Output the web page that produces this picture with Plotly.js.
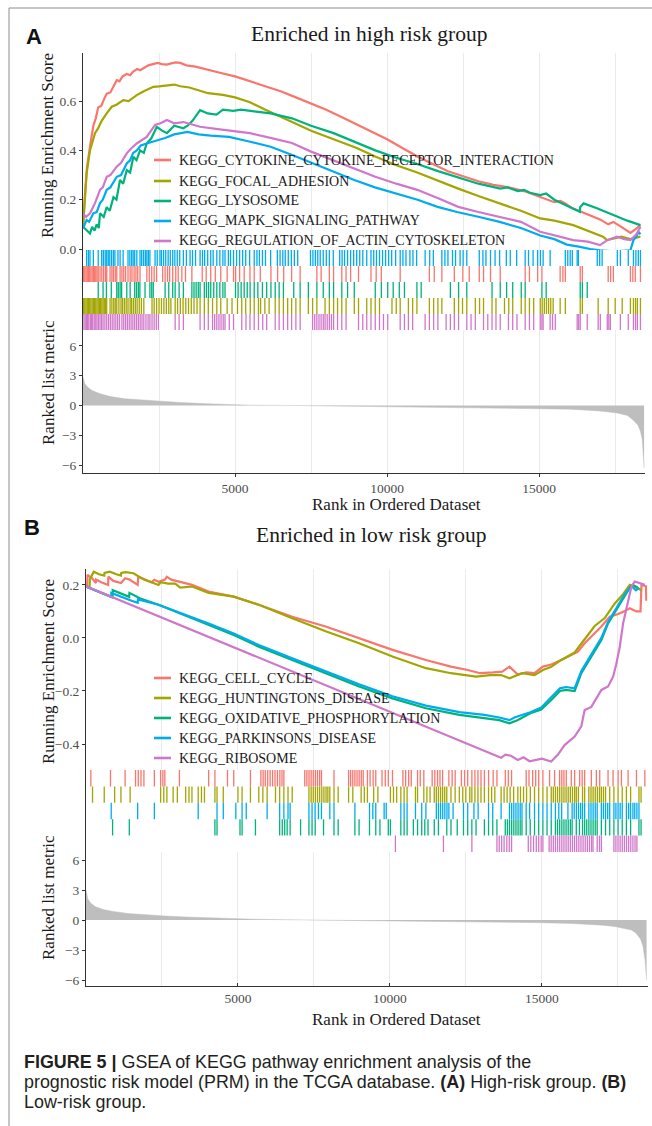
<!DOCTYPE html>
<html><head><meta charset="utf-8">
<script src="https://cdn.plot.ly/plotly-3.0.1.min.js"></script>
<style>html,body{margin:0;padding:0;background:#fff;}#chart{width:652px;height:1126px;}</style>
</head><body><div id="chart"></div>
<script>
// ---------------- DATA ----------------
const namesA = ['KEGG_CYTOKINE_CYTOKINE_RECEPTOR_INTERACTION','KEGG_FOCAL_ADHESION','KEGG_LYSOSOME','KEGG_MAPK_SIGNALING_PATHWAY','KEGG_REGULATION_OF_ACTIN_CYTOSKELETON'];
const namesB = ['KEGG_CELL_CYCLE','KEGG_HUNTINGTONS_DISEASE','KEGG_OXIDATIVE_PHOSPHORYLATION','KEGG_PARKINSONS_DISEASE','KEGG_RIBOSOME'];
const titleA = 'Enriched in high risk group';
const titleB = 'Enriched in low risk group';
const xTicks = [5000, 10000, 15000];
const xMinorTicks = [2500, 7500, 12500, 17500];
const yTicksRunA = [0, 0.2, 0.4, 0.6];
const yTicksRunB = [-0.4, -0.2, 0, 0.2];
const yTicksMetric = [-6, -3, 0, 3, 6];

// Panel A running enrichment scores
const cytokineX = [0,30,80,130,180,260,340,420,500,600,700,780,900,1000,1110,1200,1300,1440,1550,1650,1780,1880,2000,2150,2300,2450,2600,2750,2900,3050,3200,3400,3700,4000,4500,5000,5500,6000,6500,7000,7500,8000,8500,9000,9500,10000,10500,11000,11500,12000,12500,13000,13500,14000,14500,15000,15500,15700,15860,16100,16420,16700,17000,17270,17440,17700,18000,18160,18330];
const cytokineY = [0.09,0.16,0.25,0.33,0.38,0.44,0.50,0.53,0.575,0.58,0.61,0.63,0.635,0.66,0.685,0.68,0.70,0.71,0.705,0.72,0.73,0.725,0.735,0.745,0.75,0.755,0.75,0.748,0.753,0.757,0.755,0.745,0.74,0.73,0.715,0.70,0.68,0.66,0.64,0.615,0.59,0.565,0.535,0.505,0.475,0.445,0.41,0.375,0.345,0.315,0.295,0.275,0.26,0.25,0.235,0.213,0.19,0.195,0.185,0.165,0.15,0.135,0.12,0.10,0.11,0.09,0.065,0.08,0.097];
const focalX = [0,30,60,120,230,300,395,500,615,780,944,1100,1326,1500,1766,2000,2313,2500,2800,3000,3200,3500,4110,4600,5000,5490,6000,6870,7500,8240,9000,9610,10300,10990,11700,12340,13000,13720,14400,15035,15500,16120,16600,17100,17230,17500,17700,18000,18200,18330];
const focalY = [0.09,0.15,0.22,0.307,0.40,0.43,0.47,0.49,0.52,0.55,0.577,0.585,0.604,0.60,0.624,0.64,0.658,0.66,0.665,0.667,0.66,0.655,0.632,0.625,0.615,0.595,0.565,0.515,0.48,0.445,0.41,0.375,0.34,0.31,0.275,0.245,0.215,0.185,0.155,0.124,0.115,0.097,0.075,0.05,0.036,0.045,0.05,0.04,0.045,0.05];
const lysosomeX = [0,120,230,300,380,450,520,560,680,780,880,1000,1100,1217,1320,1438,1550,1656,1760,1875,2000,2095,2250,2425,2600,2760,3000,3300,3440,3600,3850,4100,4390,4600,4940,5200,5490,5800,6170,6870,7500,8240,9000,9610,10300,10990,11700,12340,13000,13720,13950,14300,14500,14700,15035,15230,15500,16000,16340,16350,16460,16900,17400,17900,18330];
const lysosomeY = [0.09,0.075,0.063,0.09,0.075,0.10,0.085,0.145,0.13,0.17,0.155,0.21,0.20,0.28,0.265,0.32,0.31,0.374,0.36,0.40,0.39,0.428,0.45,0.495,0.48,0.47,0.50,0.49,0.50,0.52,0.563,0.55,0.545,0.565,0.56,0.565,0.56,0.555,0.55,0.53,0.50,0.47,0.43,0.40,0.37,0.345,0.315,0.29,0.265,0.245,0.25,0.235,0.24,0.228,0.219,0.225,0.2,0.17,0.151,0.17,0.185,0.165,0.14,0.115,0.097];
const mapkX = [0,60,120,200,340,450,560,650,780,900,1109,1250,1438,1550,1650,1767,1900,2095,2250,2425,2700,3000,3440,3800,4200,4800,5500,6170,6900,7550,8200,8920,9600,10290,11000,11660,12300,13030,13700,14400,15035,15500,15910,16300,16680,17000,17500,18000,18100,18200,18260,18330];
const mapkY = [0.084,0.10,0.118,0.11,0.145,0.15,0.186,0.20,0.24,0.25,0.293,0.30,0.347,0.36,0.39,0.40,0.42,0.428,0.435,0.44,0.45,0.465,0.475,0.465,0.46,0.455,0.435,0.415,0.38,0.348,0.315,0.28,0.25,0.226,0.2,0.171,0.15,0.13,0.11,0.085,0.055,0.04,0.018,0.01,0.0,-0.005,-0.01,-0.005,0.036,0.05,0.07,0.06];
const actinX = [0,100,230,395,560,650,780,900,1109,1250,1438,1600,1767,1900,2095,2370,2550,2760,3000,3300,3850,4500,5490,6200,6870,7500,8240,9000,9610,10300,10990,11700,12340,13000,13720,14400,15035,15500,16120,16600,17000,17240,17560,17800,18000,18200,18330];
const actinY = [0.145,0.13,0.145,0.186,0.24,0.25,0.293,0.30,0.334,0.35,0.388,0.41,0.428,0.44,0.455,0.503,0.51,0.523,0.51,0.515,0.496,0.485,0.47,0.45,0.43,0.395,0.36,0.325,0.293,0.265,0.24,0.205,0.171,0.15,0.13,0.11,0.07,0.055,0.036,0.03,0.016,0.036,0.05,0.04,0.036,0.06,0.09];

// Panel A gene-set hit positions (rug)
const cytokineHits = [20,60,100,140,180,220,260,300,340,380,420,460,500,560,620,680,740,780,890,950,1000,1060,1110,1220,1280,1340,1400,1480,1550,1610,1680,1740,1800,1875,2100,2180,2260,2340,2420,2620,2700,2780,2850,2950,3050,3130,3250,3370,3580,3920,4050,4200,4350,4530,4740,4950,5020,5150,5300,5490,5630,5830,6180,6400,6600,6860,7140,7690,7830,8100,8240,8510,8650,8800,9060,9470,9640,9810,10430,11390,11550,11800,12210,12490,12700,13030,13170,13400,13720,14540,14680,14950,15090,15690,15780,15860,16350,16420,17270,17350,17440,18000,18080,18160,18330];
const focalHits = [20,60,100,140,180,220,260,300,340,380,420,460,500,540,580,620,660,700,740,780,890,950,1010,1060,1110,1180,1250,1300,1360,1420,1480,1550,1600,1660,1720,1780,1850,1920,2000,2270,2340,2420,2500,2580,2660,2740,2820,2890,3030,3110,3200,3290,3380,3470,3560,3650,3750,3850,3990,4120,4260,4400,4530,4740,4900,5080,5220,5350,5500,5630,5770,5840,5980,6120,6320,6450,6590,6730,6860,7000,7140,7410,7550,7690,7960,8100,8240,8370,8510,8650,8920,9060,9330,9470,9610,9750,10160,10300,10430,10700,10840,10980,11390,11530,11670,11800,12210,12350,12480,12620,12900,13040,13170,13450,13580,13860,14000,14130,14410,14540,14680,14820,15035,15100,15170,15240,15310,15380,15460,15690,15860,16350,16420,16940,17270,17500,17730,18000,18100,18170,18230,18330];
const lysosomeHits = [500,660,770,930,1110,1160,1220,1270,1440,1550,1700,1760,1820,1870,2040,2200,2260,2310,2700,2820,2950,3030,3160,3300,3580,3650,3720,3790,3850,3990,4060,4130,4200,4300,4400,4500,4600,4670,5015,5100,5200,5300,5400,5495,5630,5750,5900,6040,6180,6320,6450,6590,6930,7140,7410,7690,7900,8100,8240,8510,8700,8920,9610,9810,10020,10200,10400,10570,10980,11120,12080,12350,12620,13450,13720,13930,14130,14410,14540,15090,15230,16350,16420,16580];
const mapkHits = [120,180,230,340,500,615,670,730,780,830,880,940,1000,1050,1150,1220,1320,1480,1540,1600,1650,1700,1770,1875,1930,1990,2050,2100,2150,2200,2370,2440,2530,2580,2650,2720,2800,2870,2950,3020,3100,3180,3300,3400,3520,3600,3700,3850,3930,4000,4100,4200,4280,4400,4500,4600,4670,4780,4850,4950,5050,5150,5250,5350,5480,5630,5720,5800,5900,6000,6170,6390,6480,6570,6650,6750,6850,6950,7060,7480,7560,7640,7720,7800,7900,8000,8100,8230,8440,8520,8600,8700,8800,8900,9000,9100,9200,9330,9470,9560,9650,9750,9850,9950,10050,10150,10280,10430,10520,10620,10750,10850,10970,11250,11400,11520,11800,11900,12000,12150,12250,12400,12500,12620,13030,13150,13250,13400,13550,13700,13920,14050,14260,14540,14650,14800,14950,15040,15130,15360,15860,15940,16020,16090,16250,16290,16910,16990,17070,17570,17670,17930,18100,18180,18260,18330];
const actinHits = [30,70,110,150,190,240,280,320,370,420,460,510,560,610,660,720,780,840,900,960,1020,1080,1140,1200,1280,1340,1400,1460,1520,1580,1640,1700,1760,1820,1880,1940,2000,2070,2140,2200,2270,2340,2410,2480,3030,3160,3300,3850,3990,4120,4260,4330,4400,4470,4540,4610,4670,4810,4950,5220,5360,5490,5630,5770,5910,6040,6320,6450,6590,6730,6860,7000,7140,7550,7620,7690,7760,7830,7900,7960,8030,8100,8170,8240,8370,8510,8650,9060,9200,9330,9470,9610,9750,9880,10020,10430,10570,10700,10840,11250,11390,11530,11670,11940,12080,12210,12350,12620,12760,12900,13170,13310,13450,13580,13720,13990,14130,14270,14540,14680,14820,15035,15090,15130,15360,15440,15530,16250,16300,16350,16580,16940,17010,17240,17290,17340,17670,17930,18100,18170,18230,18330];

// Panel A ranked list metric
const rankA = [0,20,60,150,300,560,900,1380,2000,2470,3200,4100,5000,5500,6870,8000,9600,11000,12330,13500,15100,16000,16450,17000,17560,17900,18100,18250,18330,18390,18420,18450];
const metricA = [2.9,2.6,2.2,1.85,1.5,1.18,0.9,0.67,0.52,0.44,0.3,0.17,0.08,0.03,0.0,-0.05,-0.1,-0.15,-0.2,-0.24,-0.3,-0.37,-0.45,-0.56,-0.75,-1.0,-1.5,-2.0,-2.6,-3.4,-4.8,-6.3];

// Panel B running enrichment scores
const cellCycleX = [0,40,50,200,325,330,500,730,735,900,1150,1290,1430,1700,1720,1906,2150,2250,2386,2600,2660,2800,3075,3490,4037,4862,5687,6787,7887,8987,10087,11187,12012,12562,12975,13400,13700,13937,14212,14500,14762,15037,15312,15642,15862,16192,16412,16632,16962,17237,17512,17700,17897,18117,18250,18282,18430,18440];
const cellCycleY = [0.2,0.2,0.238,0.225,0.207,0.22,0.21,0.2,0.231,0.215,0.207,0.225,0.22,0.2,0.231,0.222,0.21,0.219,0.212,0.22,0.231,0.22,0.212,0.2,0.175,0.156,0.125,0.08,0.043,0.0,-0.045,-0.083,-0.108,-0.121,-0.133,-0.13,-0.127,-0.108,-0.138,-0.13,-0.133,-0.108,-0.1,-0.083,-0.07,-0.052,-0.02,0.005,0.043,0.08,0.09,0.1,0.112,0.1,0.1,0.2,0.195,0.14];
const huntingtonX = [0,120,125,256,430,600,610,780,1000,1150,1160,1300,1562,1906,2150,2386,2460,2700,2937,3100,3490,4037,4862,5687,6787,7887,8987,10087,11187,12012,12837,13300,13662,13937,14350,14762,15037,15300,15642,16082,16412,16742,17072,17402,17677,17897,18117,18282];
const huntingtonY = [0.194,0.194,0.22,0.25,0.24,0.235,0.245,0.25,0.24,0.235,0.245,0.248,0.244,0.22,0.21,0.2,0.21,0.205,0.205,0.19,0.194,0.17,0.156,0.125,0.074,0.025,-0.02,-0.07,-0.114,-0.133,-0.146,-0.14,-0.14,-0.152,-0.133,-0.14,-0.121,-0.11,-0.083,-0.055,-0.005,0.045,0.075,0.13,0.165,0.2,0.19,0.18];
const oxphosX = [0,875,880,1000,1150,1287,1420,1430,1770,2386,3212,4037,4862,5687,6787,7887,8987,10087,11187,12287,13112,13600,13937,14200,14625,14982,15312,15600,15800,16082,16302,16632,16962,17182,17512,17732,17897,18000,18150];
const oxphosY = [0.194,0.153,0.18,0.175,0.168,0.162,0.155,0.17,0.15,0.125,0.087,0.049,0.011,-0.033,-0.083,-0.133,-0.183,-0.228,-0.265,-0.29,-0.303,-0.31,-0.322,-0.31,-0.284,-0.27,-0.234,-0.2,-0.196,-0.2,-0.133,-0.07,-0.008,0.055,0.118,0.162,0.19,0.2,0.19];
const parkinsonX = [0,830,835,1000,1287,1500,1700,1710,2386,3212,4037,4862,5687,6787,7887,8987,10087,11187,12287,13112,13600,13937,14100,14625,14982,15312,15600,15800,16082,16302,16632,16962,17182,17512,17732,17952,18100,18200];
const parkinsonY = [0.194,0.155,0.17,0.162,0.15,0.14,0.133,0.145,0.125,0.09,0.054,0.017,-0.027,-0.077,-0.126,-0.175,-0.22,-0.255,-0.28,-0.29,-0.3,-0.31,-0.3,-0.28,-0.262,-0.225,-0.19,-0.185,-0.19,-0.125,-0.06,0.0,0.06,0.12,0.165,0.195,0.18,0.19];
const ribosomeX = [0,13662,13800,14000,14212,14400,14600,15000,15312,15532,15752,15900,16082,16302,16412,16632,16962,17182,17347,17450,17567,17677,17842,17952,18062,18392];
const ribosomeY = [0.195,-0.452,-0.44,-0.445,-0.46,-0.45,-0.465,-0.455,-0.466,-0.44,-0.404,-0.39,-0.372,-0.333,-0.272,-0.26,-0.196,-0.183,-0.146,-0.1,-0.033,0.055,0.143,0.194,0.213,0.2];

// Panel B gene-set hit positions (rug)
const cellCycleHits = [160,806,1287,1630,1720,1810,1906,2250,2456,2530,2594,3075,4037,4243,4656,4862,5412,5756,5830,5900,5980,6060,6140,6220,6300,6380,6450,6512,7200,7270,7340,7410,7480,7550,7620,7690,7750,8162,8643,8710,8780,8850,8920,8990,9060,9124,9262,9350,9450,9537,9743,9850,9950,10087,10430,10520,10620,10705,10912,11000,11118,11393,11480,11570,11650,11737,11943,12050,12150,12356,12460,12562,12700,12800,12900,13000,13112,13250,13400,13525,13800,13900,14006,14487,14580,14700,14800,14900,15037,15257,15422,15587,15660,15730,15807,15972,16082,16247,16330,16412,16632,16797,16907,17182,17347,17512,17622,17842,18117,18392];
const huntingtonHits = [215,600,943,1150,1452,2456,2560,2662,2868,3006,3281,3390,3487,3693,3800,3899,4243,4312,4518,5000,5137,5412,5687,5820,5962,6237,6374,6512,6649,6787,7337,7410,7480,7550,7620,7690,7760,7830,7900,7960,8024,8162,8299,8643,8781,9056,9160,9262,9468,9606,10018,10120,10224,10362,10470,10568,10843,10912,11118,11220,11324,11462,11530,11600,11670,11737,11806,11874,12012,12149,12287,12400,12500,12631,12699,12800,12900,13000,13112,13249,13350,13455,13662,13760,13860,13960,14074,14212,14300,14400,14500,14624,14762,14899,15037,15174,15312,15380,15450,15520,15590,15660,15730,15800,15870,15940,16010,16080,16136,16205,16342,16411,16549,16620,16690,16760,16830,16900,16961,17030,17099,17236,17374,17511,17649,17786,17924,18199,18268];
const oxphosHits = [875,1425,4243,4312,5068,5137,5577,6374,6460,6540,6620,6718,7062,7337,7440,7543,7818,8162,8299,8850,8987,9331,9537,9674,9949,10018,10362,10470,10568,10774,10912,11049,11150,11256,11462,11599,11874,12012,12218,12424,12562,12699,12837,13112,13249,13387,13524,13799,13870,13940,14010,14080,14150,14220,14290,14349,14487,14620,14762,14899,15037,15174,15312,15449,15520,15590,15660,15730,15800,15870,15940,15999,16136,16240,16342,16411,16480,16550,16620,16690,16760,16824,16961,17099,17236,17374,17511,17649,17786,17924,18199,18268];
const parkinsonHits = [830,1700,2250,3693,4312,4518,4931,5137,5274,5962,6374,6512,6649,6718,7337,7440,7540,7650,7749,8024,8162,8850,9331,9440,9537,9812,9881,10362,10470,10568,10843,11049,11187,11531,11600,11670,11740,11810,11880,11943,12081,12424,12562,12768,12906,13249,13387,13662,13937,14010,14080,14150,14220,14290,14349,14487,14600,14762,14899,15037,15174,15312,15449,15560,15655,15861,15999,16068,16140,16210,16280,16342,16411,16549,16620,16690,16760,16824,16961,17030,17099,17170,17236,17374,17440,17511,17580,17649,17786,17860,17924,18000,18060,18130,18199];
const ribosomeHits = [10183,11764,12700,13525,13600,13680,13760,13850,13930,14006,14556,14640,14730,14820,14900,14980,15037,15243,15310,15380,15450,15520,15590,15660,15730,15800,15870,15940,16010,16080,16150,16220,16290,16360,16430,16500,16570,16640,16687,16825,16900,16962,17375,17440,17510,17580,17650,17720,17790,17860,17930,18000,18070,18131];

// Panel B ranked list metric
const rankB = [0,20,60,150,300,560,900,1380,2000,2600,3300,4100,5000,5500,6500,7500,9000,10500,12000,13500,15000,16000,16500,17000,17400,17700,17950,18100,18250,18330,18400,18450];
const metricB = [3.0,2.6,2.1,1.7,1.35,1.05,0.85,0.65,0.5,0.4,0.3,0.2,0.12,0.08,0.03,0.0,-0.05,-0.1,-0.15,-0.2,-0.27,-0.35,-0.42,-0.52,-0.65,-0.8,-1.0,-1.3,-1.9,-2.6,-4.0,-6.0];

// ---------------- LAYOUT / STYLE ----------------
const W = 652, H = 1126;
const fx = p => p / W;
const fy = p => 1 - p / H;
const dX = (a, b) => [fx(a), fx(b)];
const dY = (t, b) => [fy(b), fy(t)];
const SERIF = 'Liberation Serif, Times New Roman, serif';
const SANS = 'Liberation Sans, Arial, sans-serif';
const AXC = '#333333', GRID = '#EBEBEB', TICKC = '#4D4D4D';
const XR = [0, 18480];
const colRed = '#F8766D', colOlive = '#A3A500', colGreen = '#00B27B', colBlue = '#00ACEE', colPurple = '#D077CA';

const A = {xdom: dX(83, 645), run: dY(53, 250), rug: dY(250, 330), met: dY(330, 473),
  runRange: [-0.004, 0.795], metRange: [-6.8, 7.6]};
const B = {xdom: dX(86, 647.5), run: dY(569, 770), rug: dY(770, 852), met: dY(852, 986),
  runRange: [-0.498, 0.26], metRange: [-6.6, 6.8]};

const tickFont = {family: SERIF, size: 13.5, color: TICKC};
function gridX(dom, anchor, labels, tickDir) {
  return {domain: dom, range: XR, anchor: anchor, zeroline: false,
    tickmode: 'array', tickvals: xTicks, tickformat: 'd',
    showticklabels: labels, ticks: labels ? tickDir : '', ticklen: 3, tickcolor: AXC,
    showline: labels, linecolor: AXC, linewidth: 1.2,
    showgrid: true, gridcolor: GRID, gridwidth: 1,
    minor: {tickmode: 'array', tickvals: xMinorTicks, showgrid: true, gridcolor: GRID, gridwidth: 1, ticks: ''},
    tickfont: tickFont, fixedrange: true};
}
function yAx(dom, anchor, range, tv, fmt) {
  return {domain: dom, anchor: anchor, range: range, tickmode: 'array', tickvals: tv,
    tickformat: fmt, ticks: 'outside', ticklen: 3, tickcolor: AXC,
    showline: true, linecolor: AXC, linewidth: 1, showgrid: false, zeroline: false,
    tickfont: tickFont, fixedrange: true};
}
function rugY(dom, anchor) {
  return {domain: dom, anchor: anchor, range: [0, 5], showline: true, linecolor: AXC, linewidth: 1,
    ticks: '', showticklabels: false, showgrid: false, zeroline: false, fixedrange: true};
}
function rugX(dom, anchor) {
  return {domain: dom, anchor: anchor, range: XR, visible: false, fixedrange: true};
}

const traces = [];
function runLine(x, y, color, xa, ya) {
  traces.push({type: 'scatter', mode: 'lines', x: x, y: y, xaxis: xa, yaxis: ya,
    line: {color: color, width: 2.2}, showlegend: false, hoverinfo: 'skip'});
}
function rug(hits, row, color, xa, ya) {
  const xs = [], ys = [];
  hits.forEach(h => { xs.push(h, h, null); ys.push(row, row + 1, null); });
  traces.push({type: 'scatter', mode: 'lines', x: xs, y: ys, xaxis: xa, yaxis: ya,
    line: {color: color, width: 1.3}, showlegend: false, hoverinfo: 'skip'});
}
function metric(x, y, xa, ya) {
  traces.push({type: 'scatter', mode: 'lines', x: x, y: y, xaxis: xa, yaxis: ya, fill: 'tozeroy',
    fillcolor: '#BEBEBE', line: {color: '#BEBEBE', width: 0.5}, showlegend: false, hoverinfo: 'skip'});
}

// Panel A
const runA = [[cytokineX, cytokineY], [focalX, focalY], [lysosomeX, lysosomeY], [mapkX, mapkY], [actinX, actinY]];
const hitsA = [cytokineHits, focalHits, lysosomeHits, mapkHits, actinHits];
const colsA = [colRed, colOlive, colGreen, colBlue, colPurple];
const rowsA = [3, 1, 2, 4, 0];
runA.forEach((s, i) => runLine(s[0], s[1], colsA[i], 'x', 'y'));
hitsA.forEach((h, i) => rug(h, rowsA[i], colsA[i], 'x2', 'y2'));
metric(rankA, metricA, 'x3', 'y3');

// Panel B
const runB = [[cellCycleX, cellCycleY], [huntingtonX, huntingtonY], [oxphosX, oxphosY], [parkinsonX, parkinsonY], [ribosomeX, ribosomeY]];
const hitsB = [cellCycleHits, huntingtonHits, oxphosHits, parkinsonHits, ribosomeHits];
const colsB = [colRed, colOlive, colGreen, colBlue, colPurple];
const rowsB = [4, 3, 1, 2, 0];
runB.forEach((s, i) => runLine(s[0], s[1], colsB[i], 'x4', 'y4'));
hitsB.forEach((h, i) => rug(h, rowsB[i], colsB[i], 'x5', 'y5'));
metric(rankB, metricB, 'x6', 'y6');

const ann = [];
const shapes = [];
function txt(text, px, py, size, opts) {
  ann.push(Object.assign({text: text, x: fx(px), y: fy(py), xref: 'paper', yref: 'paper', showarrow: false,
    xanchor: 'center', yanchor: 'middle', font: {family: SERIF, size: size, color: '#1A1A1A'}}, opts || {}));
}
// panel letters and titles
txt('<b>A</b>', 24, 36, 22, {xanchor: 'left', font: {family: SANS, size: 22, color: '#111'}});
txt('<b>B</b>', 22, 527, 22, {xanchor: 'left', font: {family: SANS, size: 22, color: '#111'}});
txt(titleA, 369, 34, 21.5);
txt(titleB, 371, 535, 21.5);
// axis titles
txt('Running Enrichment Score', 48, 146, 17, {textangle: -90});
txt('Ranked list metric', 48, 383, 17, {textangle: -90});
txt('Rank in Ordered Dataset', 396, 505, 17);
txt('Running Enrichment Score', 48, 672, 17, {textangle: -90});
txt('Ranked list metric', 48, 898, 17, {textangle: -90});
txt('Rank in Ordered Dataset', 396, 1019, 17);
// legends
const legYA = [160, 181, 201, 221, 241];
const legYB = [678, 698, 718, 738, 758];
function legend(names, cols, ys) {
  names.forEach((n, i) => {
    shapes.push({type: 'line', xref: 'paper', yref: 'paper', x0: fx(154), x1: fx(171), y0: fy(ys[i]), y1: fy(ys[i]),
      line: {color: cols[i], width: 2.6}});
    txt(n, 177, ys[i], 14, {xanchor: 'left'});
  });
}
legend(namesA, colsA, legYA);
legend(namesB, colsB, legYB);
// caption
const capFont = {family: SANS, size: 17.9, color: '#231F20'};
txt('<b>FIGURE 5 |</b> GSEA of KEGG pathway enrichment analysis of the', 22, 1062, 17.9, {xanchor: 'left', font: capFont});
txt('prognostic risk model (PRM) in the TCGA database. <b>(A)</b> High-risk group. <b>(B)</b>', 22, 1082, 17.9, {xanchor: 'left', font: capFont});
txt('Low-risk group.', 22, 1102, 17.9, {xanchor: 'left', font: capFont});
// figure frame
shapes.push({type: 'line', xref: 'paper', yref: 'paper', x0: fx(9), x1: 1, y0: fy(8), y1: fy(8), line: {color: '#8C8C8C', width: 1}});
shapes.push({type: 'line', xref: 'paper', yref: 'paper', x0: fx(9), x1: fx(9), y0: fy(8), y1: 0, line: {color: '#8C8C8C', width: 1}});

const layout = {
  width: W, height: H, margin: {l: 0, r: 0, t: 0, b: 0}, paper_bgcolor: '#fff', plot_bgcolor: 'rgba(0,0,0,0)',
  showlegend: false, font: {family: SERIF},
  xaxis: gridX(A.xdom, 'y', false, ''),
  yaxis: yAx(A.run, 'x', A.runRange, yTicksRunA, '.1f'),
  xaxis2: rugX(A.xdom, 'y2'),
  yaxis2: rugY(A.rug, 'x2'),
  xaxis3: gridX(A.xdom, 'y3', true, 'outside'),
  yaxis3: yAx(A.met, 'x3', A.metRange, yTicksMetric, 'd'),
  xaxis4: gridX(B.xdom, 'y4', false, ''),
  yaxis4: yAx(B.run, 'x4', B.runRange, yTicksRunB, '.1f'),
  xaxis5: rugX(B.xdom, 'y5'),
  yaxis5: rugY(B.rug, 'x5'),
  xaxis6: gridX(B.xdom, 'y6', true, 'inside'),
  yaxis6: yAx(B.met, 'x6', B.metRange, yTicksMetric, 'd'),
  annotations: ann, shapes: shapes
};
Plotly.newPlot('chart', traces, layout, {staticPlot: true, displayModeBar: false});
</script></body></html>
